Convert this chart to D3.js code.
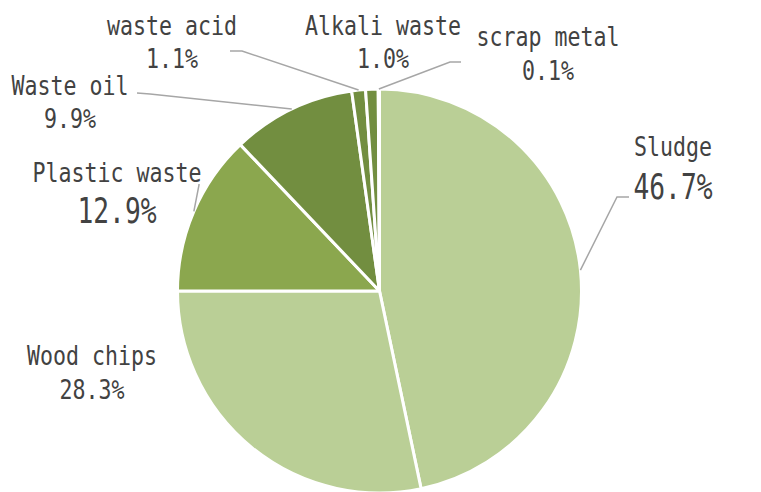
<!DOCTYPE html>
<html>
<head>
<meta charset="utf-8">
<script src="https://cdn.jsdelivr.net/npm/d3@7"></script>
<style>
  html, body { margin: 0; padding: 0; background: #fff; }
  text { font-family: "DejaVu Sans Mono", monospace; fill: #424242; }
</style>
</head>
<body>
<div id="chart"></div>
<script>
(function () {

    const categories = ['Sludge', 'Wood chips', 'Plastic waste', 'Waste oil', 'waste acid', 'Alkali waste', 'scrap metal'];
    const shares = [46.7, 28.3, 12.9, 9.9, 1.1, 1.0, 0.1];
    const shareLabels = ['46.7%', '28.3%', '12.9%', '9.9%', '1.1%', '1.0%', '0.1%'];

    // layout of the labels (center x, name baseline, share baseline, leader elbow + end)
    const labelPos = [
        { x: 673, y1: 156, y2: 199, big: true, leader: [[617, 197], [629, 197]] },
        { x: 92, y1: 365, y2: 399, big: false, leader: null },
        { x: 117, y1: 182, y2: 223, big: true, leader: [[199, 185], [199, 184]] },
        { x: 70, y1: 95, y2: 128, big: false, leader: [[150, 94], [137, 93]] },
        { x: 172, y1: 35, y2: 68, big: false, leader: [[242, 51], [230, 51]] },
        { x: 383, y1: 35, y2: 68, big: false, leader: null },
        { x: 548, y1: 46, y2: 80, big: false, leader: [[450, 62], [461, 62]] }
    ];

    const colors = ['#bacf96', '#bacf96', '#8ba74e', '#728e40', '#728e40', '#728e40', '#728e40'];

    const width = 761;
    const height = 492;
    const cx = 379.5, cy = 291, radius = 202;

    const svg = d3.select('#chart')
        .append('svg')
        .attr('width', width)
        .attr('height', height);

    const pie = d3.pie().sort(null).value(d => d);
    const arcs = pie(shares);

    const arc = d3.arc().innerRadius(0).outerRadius(radius);

    const g = svg.append('g')
        .attr('transform', `translate(${cx},${cy})`);

    g.selectAll('path')
        .data(arcs)
        .join('path')
        .attr('d', arc)
        .attr('fill', (d, i) => colors[i])
        .attr('stroke', '#fff')
        .attr('stroke-width', 3)
        .attr('stroke-linejoin', 'round');

    // leader lines from the middle of the outer edge
    const line = d3.line();
    arcs.forEach((d, i) => {
        const p = labelPos[i];
        if (!p.leader) return;
        const a = (d.startAngle + d.endAngle) / 2;
        const start = [cx + radius * Math.sin(a), cy - radius * Math.cos(a)];
        svg.append('path')
            .attr('d', line([start].concat(p.leader)))
            .attr('fill', 'none')
            .attr('stroke', '#a6a6a6')
            .attr('stroke-width', 1.5);
    });

    // labels
    function addText(x, y, str, size, sx) {
        svg.append('g')
            .attr('transform', `translate(${x},${y}) scale(${sx},1)`)
            .append('text')
            .attr('text-anchor', 'middle')
            .style('font-size', size + 'px')
            .text(str);
    }

    categories.forEach((c, i) => {
        const p = labelPos[i];
        addText(p.x, p.y1, c, 27, 0.8);
        if (p.big) addText(p.x, p.y2, shareLabels[i], 35, 0.75);
        else addText(p.x, p.y2, shareLabels[i], 27, 0.8);
    });

})();
</script>
</body>
</html>
